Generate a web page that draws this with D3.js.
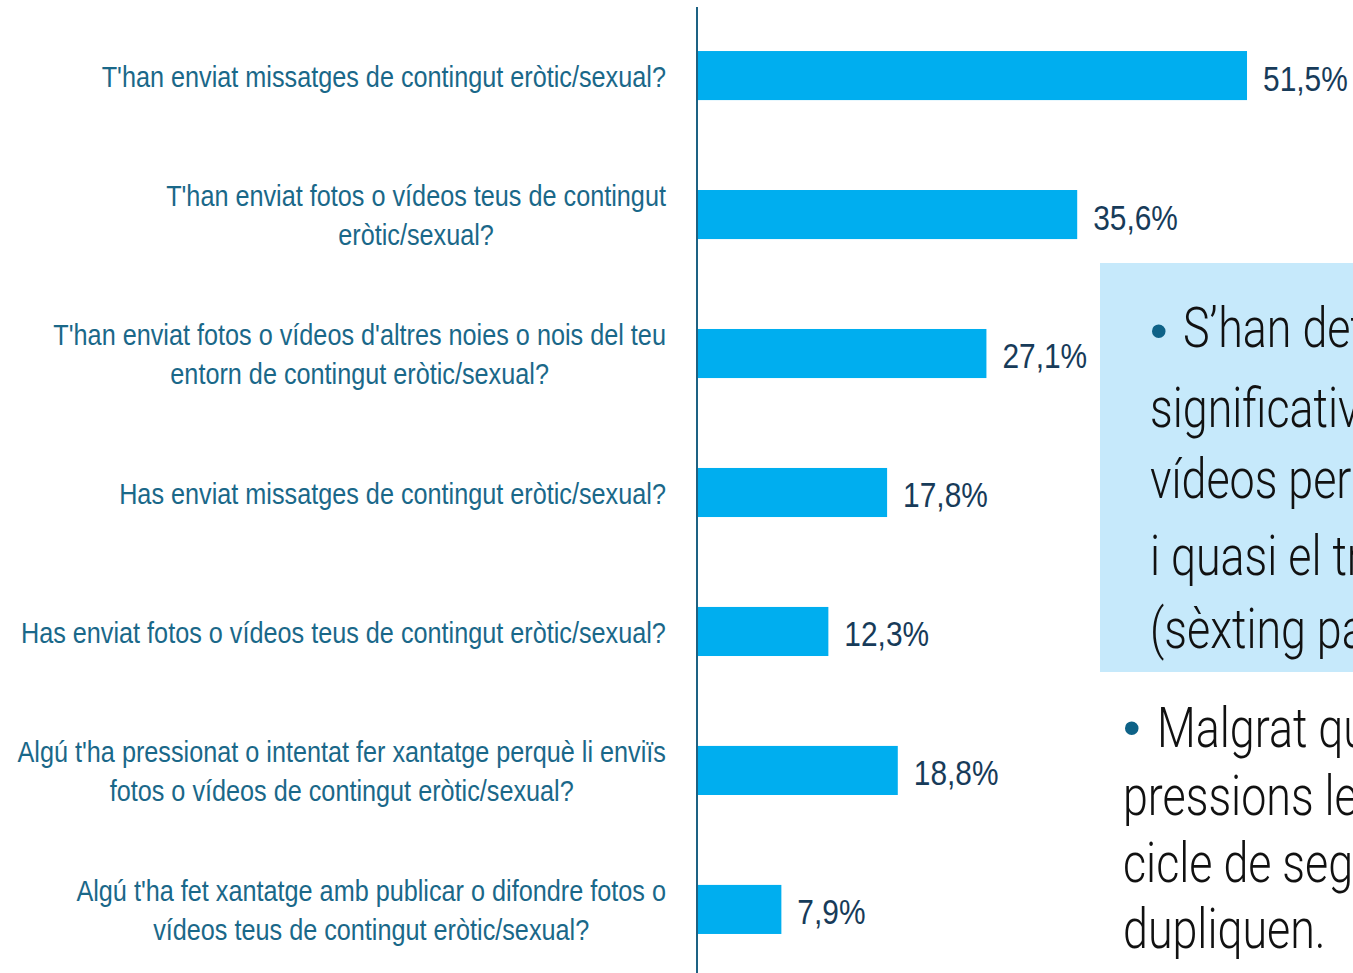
<!DOCTYPE html>
<html>
<head>
<meta charset="utf-8">
<script src="https://cdn.jsdelivr.net/npm/d3@7"></script>
<style>
  html, body { margin: 0; padding: 0; background: #fff; overflow: hidden; }
  svg { display: block; }
  text { font-family: "Liberation Sans", Arial, sans-serif; }
  text.note { font-family: Roboto, "Liberation Sans", sans-serif; font-weight: 300; }
</style>
</head>
<body>
<svg id="chart" width="1353" height="973"></svg>
<script>
// Survey items (each entry is the label split into its printed lines)
const categories = [
  ["T'han enviat missatges de contingut eròtic/sexual?"],
  ["T'han enviat fotos o vídeos teus de contingut", "eròtic/sexual?"],
  ["T'han enviat fotos o vídeos d'altres noies o nois del teu", "entorn de contingut eròtic/sexual?"],
  ["Has enviat missatges de contingut eròtic/sexual?"],
  ["Has enviat fotos o vídeos teus de contingut eròtic/sexual?"],
  ["Algú t'ha pressionat o intentat fer xantatge perquè li enviïs", "fotos o vídeos de contingut eròtic/sexual?"],
  ["Algú t'ha fet xantatge amb publicar o difondre fotos o", "vídeos teus de contingut eròtic/sexual?"]
];
// Percentage of respondents answering yes
const values = [51.5, 35.6, 27.1, 17.8, 12.3, 18.8, 7.9];

// Side notes (bullet paragraphs, one entry per printed line)
const note1Lines = ["S’han detectat diferències", "significatives en l’enviament de fotos o", "vídeos per part de les noies", "i quasi el triple en el cas", "(sèxting passiu)"];
const note2Lines = ["Malgrat que", "pressions les", "cicle de segon", "dupliquen."];

const svg = d3.select("#chart");
const W = 1353, H = 973;

// Condensed look: regular face squeezed horizontally
const SX_LABEL = 0.87, SX_VALUE = 0.83, SX_NOTE = 0.8;

const rows = categories.map((lines, i) => ({ id: i, lines, value: values[i] }));

const y = d3.scaleBand()
  .domain(rows.map(d => d.id))
  .range([6, 979])
  .paddingInner(0.647)
  .paddingOuter(0.324);

const x = d3.scaleLinear().domain([0, 100]).range([697, 1765]);

const ca = d3.formatLocale({ decimal: ",", thousands: ".", grouping: [3], currency: ["", "€"] });
const fmt = v => ca.format(".1f")(v) + "%";

// Bars
svg.append("g").selectAll("rect")
  .data(rows)
  .join("rect")
  .attr("x", x(0))
  .attr("y", d => y(d.id))
  .attr("width", d => x(d.value) - x(0))
  .attr("height", y.bandwidth())
  .attr("fill", "#00AEEF");

// Value labels
svg.append("g").selectAll("text")
  .data(rows)
  .join("text")
  .attr("transform", d => `translate(${x(d.value) + 16},${y(d.id) + y.bandwidth() / 2 + 2}) scale(${SX_VALUE},1)`)
  .attr("dy", "0.36em")
  .attr("font-size", 36)
  .attr("fill", "#173B59")
  .text(d => fmt(d.value));

// Category labels: lines centred on each other, block right-aligned near the axis
const labelRight = 666, lineH = 39;
svg.append("g").selectAll("text")
  .data(rows)
  .join("text")
  .attr("font-size", 29)
  .attr("fill", "#1A6889")
  .attr("text-anchor", "middle")
  .each(function (d) {
    const t = d3.select(this);
    const cy = y(d.id) + y.bandwidth() / 2 + 1;
    const n = d.lines.length;
    const spans = t.selectAll("tspan").data(d.lines).join("tspan")
      .attr("x", 0)
      .attr("y", (l, j) => (j - (n - 1) / 2) * lineH)
      .attr("dy", "0.36em")
      .text(l => l);
    let maxW = 0;
    spans.each(function () { maxW = Math.max(maxW, this.getComputedTextLength()); });
    t.attr("transform", `translate(${labelRight - maxW * SX_LABEL / 2},${cy}) scale(${SX_LABEL},1)`);
  });

// Vertical axis line
svg.append("line")
  .attr("x1", x(0)).attr("x2", x(0))
  .attr("y1", 7).attr("y2", H)
  .attr("stroke", "#1D6283")
  .attr("stroke-width", 2);

// Highlighted note box
svg.append("rect")
  .attr("x", 1100).attr("y", 263)
  .attr("width", 400).attr("height", 409)
  .attr("fill", "#C6E9FB");

function note(lines, x0, firstX, baselines, bulletY) {
  const g = svg.append("g");
  g.append("text")
    .attr("x", x0).attr("y", bulletY)
    .attr("dy", "0.35em")
    .attr("font-size", 50)
    .attr("fill", "#0E6287")
    .text("•");
  lines.forEach((l, j) => {
    g.append("text")
      .attr("class", "note")
      .attr("transform", `translate(${j === 0 ? firstX : x0},${baselines[j]}) scale(${SX_NOTE},1)`)
      .attr("font-size", 56)
      .attr("fill", "#111")
      .text(l);
  });
}

note(note1Lines, 1150, 1183, [347, 427, 498, 575, 648], 330);
note(note2Lines, 1123, 1157, [747, 815, 882, 948], 727);
</script>
</body>
</html>
